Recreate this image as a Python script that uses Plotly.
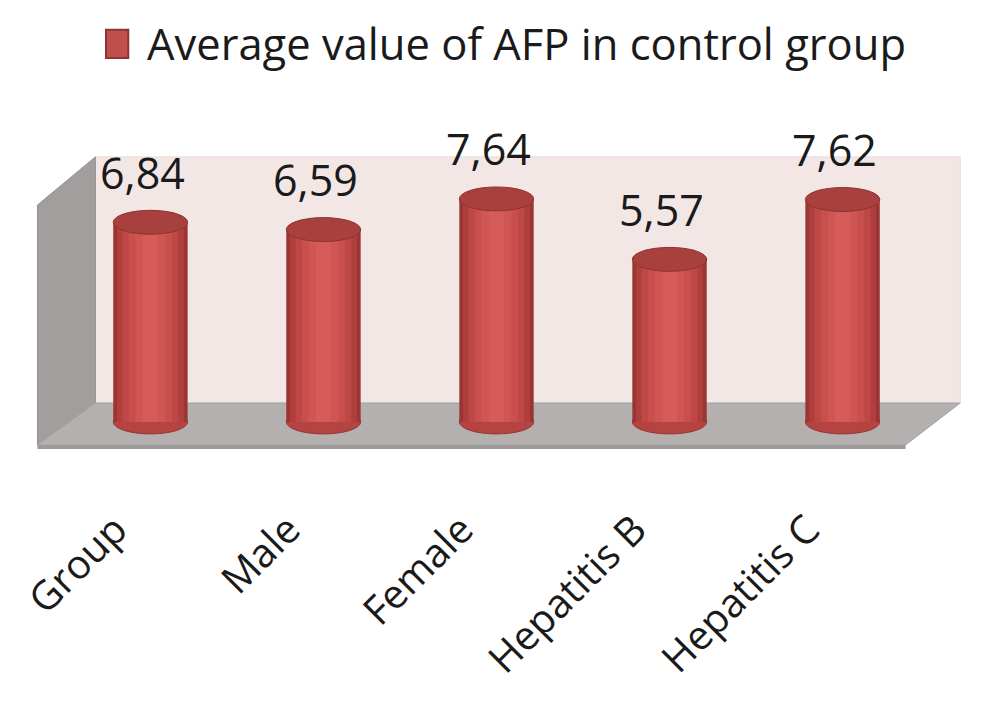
import plotly.graph_objects as go

# Data
categories = ["Group", "Male", "Female", "Hepatitis B", "Hepatitis C"]
afp_values = [6.84, 6.59, 7.64, 5.57, 7.62]
value_labels = ["6,84", "6,59", "7,64", "5,57", "7,62"]
legend_label = "Average value of AFP in control group"

font_name = "Open Sans"
bar_width = 0.43
cap = 0.41  # half height of the cylinder caps, in y units

fig = go.Figure()

# fake cylinder shading with narrowing overlay bars
shades = [(1.0, "#9A3533"), (0.9, "#AE3F3D"), (0.75, "#BE4846"),
          (0.58, "#C94F4D"), (0.4, "#D05654"), (0.2, "#D65C59")]
for frac, col in shades:
    fig.add_trace(go.Bar(
        x=list(range(len(categories))), y=afp_values,
        width=bar_width * frac, marker=dict(color=col, line=dict(width=0)),
        showlegend=False, hoverinfo="skip",
    ))

shapes = []
# back wall
shapes.append(dict(type="rect", xref="x", yref="y", x0=-0.318, x1=4.68, y0=0.65, y1=9.08,
                   fillcolor="#F3E7E6", line=dict(color="#E8DADA", width=1), layer="below"))
# left wall
shapes.append(dict(type="path", xref="x", yref="y",
                   path="M -0.653,7.43 L -0.318,9.08 L -0.318,0.65 L -0.653,-0.79 Z",
                   fillcolor="#A29E9E", line=dict(color="#969292", width=1), layer="below"))
# floor
shapes.append(dict(type="path", xref="x", yref="y",
                   path="M -0.653,-0.79 L 4.364,-0.79 L 4.68,0.65 L -0.318,0.65 Z",
                   fillcolor="#B4B0B0", line=dict(color="#A8A4A4", width=1), layer="below"))
# floor front edge
shapes.append(dict(type="path", xref="x", yref="y",
                   path="M -0.653,-0.79 L 4.364,-0.79 L 4.364,-0.93 L -0.653,-0.93 Z",
                   fillcolor="#9E9A9A", line=dict(width=0), layer="below"))

annotations = []
for i, (v, lab) in enumerate(zip(afp_values, value_labels)):
    # bottom cap (round base)
    shapes.append(dict(type="circle", xref="x", yref="y",
                       x0=i - bar_width / 2, x1=i + bar_width / 2, y0=-cap, y1=cap,
                       fillcolor="#B44341", line=dict(color="#9A3533", width=1), layer="below"))
    # top cap
    shapes.append(dict(type="circle", xref="x", yref="y",
                       x0=i - bar_width / 2, x1=i + bar_width / 2, y0=v - cap, y1=v + cap,
                       fillcolor="#A8403E", line=dict(color="#8E3331", width=1), layer="above"))
    annotations.append(dict(x=i, y=v, xref="x", yref="y", text=lab, showarrow=False,
                            xshift=-8, yshift=50, font=dict(family=font_name, size=43, color="#1a1a1a")))

# legend (drawn by hand so the swatch can be large)
shapes.append(dict(type="rect", xref="paper", yref="paper", x0=0.097, x1=0.12, y0=1.102, y1=1.18,
                   fillcolor="#C0504D", line=dict(color="#8C3533", width=2)))
annotations.append(dict(x=0.137, y=1.141, xref="paper", yref="paper", text=legend_label,
                        showarrow=False, xanchor="left", yanchor="middle",
                        font=dict(family=font_name, size=43.5, color="#1a1a1a")))

fig.update_layout(
    width=1000, height=718,
    barmode="overlay",
    plot_bgcolor="white", paper_bgcolor="white",
    margin=dict(l=4, r=27, t=87, b=269),
    shapes=shapes, annotations=annotations,
    showlegend=False,
    font=dict(family=font_name, color="#1a1a1a"),
)
fig.update_xaxes(
    range=[-0.8, 4.8], tickvals=list(range(len(categories))), ticktext=categories,
    tickangle=-45, tickfont=dict(size=40), showgrid=False, zeroline=False, showline=False,
    ticks="", ticklabelstandoff=40, ticklabelshift=-35,
)
fig.update_yaxes(range=[-1.2, 11.2], visible=False, showgrid=False, zeroline=False)

fig.write_html("out.html")
